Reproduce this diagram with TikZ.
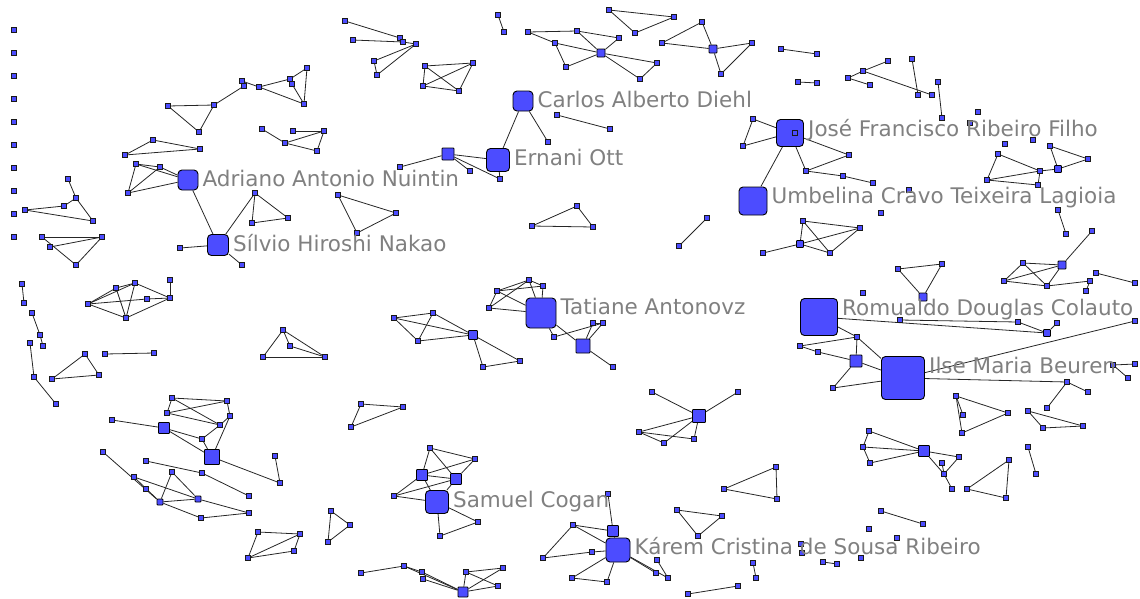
\documentclass[tikz,border=0pt]{standalone}
\usepackage{fontspec}
\newfontfamily\lblfont{DejaVu Sans}
\usetikzlibrary{backgrounds}
\definecolor{nodeblue}{RGB}{76,76,255}
\definecolor{lblgray}{RGB}{128,128,128}

\begin{document}
\begin{tikzpicture}[x=1pt, y=-1pt,
    au/.style={draw=black!90, line width=1pt, fill=nodeblue, inner sep=0pt, minimum size=4.2pt},
    hub/.style={draw=black, line width=0.9pt, fill=nodeblue, inner sep=0pt,
                minimum size=#1pt, rounded corners=0.8pt},
    big/.style={hub=#1, rounded corners=4pt},
    ln/.style={black!85, line width=0.8pt},
    lbl/.style={font=\lblfont\fontsize{21.5}{24}\selectfont, text=lblgray, inner sep=0pt,
                text height=15.7pt, text depth=0pt, anchor=north west, xshift=4pt, yshift=-1.5pt}
]
    \useasboundingbox (0,0) rectangle (1140,598);

    \foreach \n/\x/\y in {l1/14/30, l2/14/53, l3/14/76, l4/14/99, l5/14/122, l6/14/145,
        l7/14/168, l8/14/191, l9/14/214, l10/14/237,
        a1/168/106, a2/214/105, a3/199/132, a4/244/86, a5/242/81, a6/259/87, a7/290/79,
        a8/307/68, a9/304/104, a10/292/84,
        b1/262/129, b2/285/143, b3/324/131, b4/317/151, b5/293/131,
        c1/153/140, c2/125/155, c3/200/149, c4/136/164, c5/160/167, c6/128/193,
        d1/68/179, d2/76/198, d3/64/206, d4/25/210, d5/93/221,
        e1/255/193, e2/252/223, e3/288/218, e4/180/248, e5/242/265,
        f1/338/195, f2/396/213, f3/357/233,
        g1/42/237, g2/102/237, g3/50/247, g4/76/265,
        h1/88/304, h2/116/288, h3/135/283, h4/126/318, h5/147/299, h6/170/298, h7/170/280,
        i1/22/284, i2/24/303, i3/32/313, i4/40/335, i5/43/346, i6/30/343, i7/34/377, i8/56/404,
        j1/85/354, j2/52/379, j3/99/375, j4/105/354, j5/154/353,
        k1/283/330, k2/263/357, k3/325/357, k4/290/346,
        m1/394/318, m2/433/313, m3/418/341, m4/483/367, m5/520/361,
        t1/497/291, t2/529/280, t3/543/286, t4/489/308, t6/603/323, t7/593/323, t8/613/367, t9/554/337,
        n1/532/226, n2/577/206, n3/593/227, n4/707/218, n5/679/246,
        o1/400/167, o2/470/171, o3/500/179, o4/548/142, o5/557/115, o6/610/129,
        p1/345/21, p2/400/38, p3/403/42, p4/353/40, p5/374/61, p6/377/75, p7/416/44,
        q1/425/66, q2/473/63, q3/423/86, q4/459/91,
        r1/498/15, r2/504/32,
        s1/528/32, s2/555/43, s3/566/67, s4/577/31, s5/619/38, s6/657/63, s7/640/79,
        s8/609/10, s9/674/17, s10/635/33,
        u1/702/22, u2/662/43, u3/752/43, u4/721/74, u5/781/49, u6/817/54, u7/798/82, u8/817/83,
        v1/848/78, v2/863/71, v3/888/61, v4/912/59, v5/918/95, v6/932/95, v7/938/82, v8/942/118,
        v9/870/85, v10/978/112, v11/970/123, v12/1033/140, v13/1005/144,
        w1/998/154, w2/987/180, w3/1040/171, w4/1038/185, w6/1050/146, w7/1088/159,
        x1/753/119, x2/743/146, x3/849/155, x4/806/171, x5/843/176, x6/873/183,
        y1/803/221, y3/763/253, y4/830/253, y5/860/228, y6/881/213, y7/909/190,
        z1/898/269, z2/942/264, z4/863/293,
        aa1/1058/210, aa2/1066/234, aa3/1092/231, aa5/1023/263, aa6/1004/281, aa7/1047/286,
        aa8/1090/281, aa9/1086/291, aa10/1096/273, aa11/1135/283,
        ab1/800/346, ab2/818/352, ab3/857/337, ab5/833/388,
        ac1/900/320, ac2/1018/322, ac4/1057/323, ac5/1135/321,
        ad1/1067/382, ad2/1088/392, ad3/1113/365, ad4/1135/364, ad5/1128/378, ad6/1047/408,
        ae1/956/396, ae2/963/415, ae3/962/433, ae4/1008/413,
        af1/1028/411, af2/1043/428, af3/1083/426,
        ag1/869/431, ag2/863/447, ag3/870/463, ag4/959/457, ag5/942/463, ag6/944/474, ag7/952/489,
        ah1/1009/460, ah2/967/489, ah3/1006/498, ah4/1028/447, ah5/1036/474,
        ai1/881/511, ai2/923/524, ai3/869/529, ai4/897/538, ai5/861/558,
        aj1/652/392, aj2/738/392, aj3/639/432, aj4/664/443, aj5/694/439,
        ak1/776/467, ak2/724/489, ak3/777/499,
        al1/677/510, al2/722/516, al3/698/536,
        am2/608/494, am3/573/525, am4/592/552, am5/572/578, am6/607/582, am7/656/573, am8/668/578,
        am9/657/560, am10/543/558, am12/753/563, am13/756/578, am14/688/594, am15/738/586,
        am16/801/544, am17/802/553, am18/837/564, am19/823/562,
        an1/466/572, an2/503/568, an3/498/586, an4/422/572, an5/423/579, an6/404/566, an7/361/573,
        ao3/430/448, ao4/475/459, ao5/394/496, ao6/440/536, ao7/478/522,
        ap1/361/404, ap2/403/407, ap3/351/427,
        aq1/331/511, aq2/350/525, aq3/328/542,
        ar1/258/532, ar2/248/558, ar3/300/534, ar4/294/551,
        as3/172/398, as4/227/401, as5/167/413, as6/230/416, as7/220/425, as8/202/439, as9/112/420,
        as11/275/456, as12/280/483, as13/146/461, as14/202/473, as15/249/496, as16/103/452,
        as17/134/477, as18/146/489, as19/172/472, as22/201/518, as23/249/513}
        \node[au] (\n) at (\x,\y) {};

    \foreach \n/\x/\y/\s in {m0/473/335/9, t5/583/346/14, o0/448/154/12, s0/601/53/8,
        u0/713/49/8, w5/1058/169/7, y2/800/244/7, z3/923/297/8, aa4/1062/265/8, ab4/856/361/12,
        ac3/1047/333/7, ag0/924/451/11, aj0/699/416/13, am1/613/531/11, an0/463/592/10,
        ao1/422/475/11, ao2/456/479/11, as1/164/428/11, as2/212/457/15, as20/160/502/6, as21/198/499/6}
        \node[hub=\s] (\n) at (\x,\y) {};

    \node[big=20, label={[lbl]north east:Adriano Antonio Nuintin}] (adr) at (188,180) {};
    \node[big=21, label={[lbl]north east:Sílvio Hiroshi Nakao}] (sil) at (218,245) {};
    \node[big=20, label={[lbl]north east:Carlos Alberto Diehl}] (car) at (523,101) {};
    \node[big=23, label={[lbl]north east:Ernani Ott}] (ern) at (498,160) {};
    \node[big=27, label={[lbl]north east:José Francisco Ribeiro Filho}] (jos) at (790,133) {};
    \node[big=28, label={[lbl]north east:Umbelina Cravo Teixeira Lagioia}] (umb) at (753,201) {};
    \node[big=30, label={[lbl]north east:Tatiane Antonovz}] (tat) at (541,313) {};
    \node[big=37, label={[lbl]north east:Romualdo Douglas Colauto}] (rom) at (819,317) {};
    \node[big=43, label={[lbl]north east:Ilse Maria Beuren}] (ils) at (903,378) {};
    \node[big=23, label={[lbl]north east:Samuel Cogan}] (sam) at (437,502) {};
    \node[big=24, label={[lbl]north east:Kárem Cristina de Sousa Ribeiro}] (kar) at (618,550) {};
    \node[au] (x0) at (795,133) {};

    \begin{scope}[on background layer]
    \foreach \a/\b in {a1/a2, a1/a3, a2/a3, a2/a4, a5/a6, a6/a7, a6/a9, a7/a8, a8/a9, a10/a9, a7/a10,
        b1/b2, b2/b4, b3/b4, b5/b3, b2/b3,
        c1/c2, c1/c3, c2/c3, c4/c5, c4/c6, c5/c6, c4/adr, c6/adr, c5/adr,
        d1/d2, d2/d3, d3/d4, d4/d5, d2/d5,
        adr/sil, e1/sil, e2/e3, e1/e3, e1/e2, e4/sil, sil/e5,
        f1/f2, f1/f3, f2/f3,
        g1/g2, g1/g4, g3/g2, g2/g4,
        h1/h2, h1/h3, h1/h4, h2/h3, h3/h6, h4/h6, h2/h4, h3/h4, h5/h6, h6/h7, h1/h5,
        i1/i2, i3/i4, i4/i5, i6/i7, i7/i8,
        j1/j2, j1/j3, j2/j3, j4/j5,
        k1/k2, k1/k3, k2/k3, k4/k3, k1/k4,
        m1/m2, m1/m3, m2/m3, m1/m0, m2/m0, m3/m0, m0/m4, m0/m5, m4/m5,
        t1/t2, t1/t3, t1/t4, t2/t4, t2/t3, t3/tat, t2/tat, t4/tat, t1/tat,
        tat/t5, t5/t6, t5/t7, t7/t6, t5/t8, t9/t6, tat/t9,
        n1/n2, n2/n3, n1/n3, n4/n5,
        car/ern, car/o4, o0/o1, o0/ern, o0/o2, o0/o3, ern/o3, o5/o6,
        p1/p2, p4/p3, p5/p7, p5/p6, p6/p7, p3/p7,
        q1/q2, q1/q3, q1/q4, q2/q3, q2/q4, q3/q4,
        r1/r2,
        s1/s4, s1/s2, s2/s0, s3/s2, s3/s0, s4/s0, s5/s0, s0/s6, s0/s7, s6/s7, s4/s5,
        s8/s9, s8/s10, s9/s10,
        u1/u2, u1/u0, u2/u0, u0/u3, u0/u4, u4/u3, u5/u6, u7/u8,
        v1/v2, v2/v3, v2/v6, v4/v5, v7/v8, v1/v9,
        w1/w2, w1/w3, w2/w3, w2/w4, w3/w5, w3/w4, w6/w5, w6/w7, w5/w7,
        jos/x1, jos/x2, x1/x2, jos/x3, jos/x4, x4/x3, x4/x5, x5/x6, jos/umb,
        y1/y2, y1/y4, y1/y5, y2/y5, y2/y4, y3/y2, y4/y5,
        z1/z2, z1/z3, z2/z3,
        aa1/aa2, aa3/aa4, aa5/aa4, aa5/aa6, aa5/aa7, aa6/aa4, aa4/aa7, aa6/aa7, aa7/aa8, aa8/aa9, aa10/aa11,
        rom/ab3, ab1/ab3, ab1/ab2, ab2/ab4, ab3/ab4, ab4/ab5, ab4/ils, ab3/ils, ab5/ils,
        rom/ac3, ac1/ac2, ac2/ac3, ac3/ac4, ils/ac5,
        ils/ad1, ad1/ad2, ad3/ad4, ad3/ad5, ad6/ad1,
        ae1/ae4, ae1/ae2, ae3/ae4, ae1/ae3,
        af1/af3, af1/af2, af2/af3,
        ag1/ag2, ag2/ag3, ag1/ag0, ag2/ag0, ag3/ag0, ag0/ag4, ag0/ag6, ag5/ag6, ag4/ag6, ag6/ag7,
        ah1/ah2, ah1/ah3, ah2/ah3, ah4/ah5, ai1/ai2, am19/am18,
        aj0/aj1, aj0/aj2, aj0/aj3, aj0/aj4, aj0/aj5, aj3/aj4, aj3/aj5,
        ak1/ak2, ak1/ak3, ak2/ak3, al1/al2, al1/al3, al2/al3,
        kar/am1, am1/am2, kar/am3, am3/am1, kar/am4, kar/am5, kar/am6, am5/am6, kar/am7, kar/am8,
        am9/am8, am10/am3, am10/am4, am12/am13, am14/am15,
        an1/an2, an1/an3, an1/an0, an3/an0, an4/an0, an6/an0, an5/an0, an6/an4, an7/an6, an2/an0,
        ao3/ao4, ao3/ao1, ao3/ao2, ao4/ao1, ao4/ao2, ao1/ao2, ao5/ao1, ao5/ao2, ao5/sam, ao1/sam,
        ao2/sam, sam/ao6, ao6/ao7, sam/ao7,
        ap1/ap2, ap1/ap3, ap2/ap3, aq1/aq2, aq1/aq3, aq2/aq3,
        ar1/ar2, ar1/ar3, ar2/ar3, ar3/ar4, ar2/ar4,
        as3/as4, as3/as5, as3/as7, as5/as4, as5/as7, as4/as6, as6/as7, as7/as8, as6/as2, as8/as2,
        as1/as9, as1/as8, as1/as2, as2/as12, as11/as12,
        as13/as14, as14/as15, as16/as20, as17/as20, as19/as20, as19/as21, as20/as21, as20/as22,
        as21/as23, as22/as23, as17/as21}
        \draw[ln] (\a) -- (\b);
    \end{scope}
\end{tikzpicture}
\end{document}
